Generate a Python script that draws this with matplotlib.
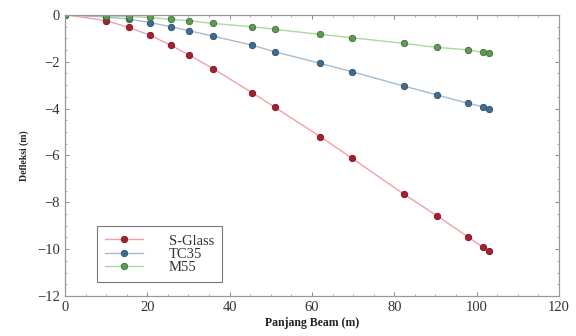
import matplotlib
matplotlib.use("Agg")
import matplotlib.pyplot as plt
from matplotlib.ticker import MultipleLocator

x = [0, 10, 15.5, 20.6, 25.7, 30.1, 36, 45.5, 51, 62, 69.7, 82.3, 90.4, 98, 101.5, 103]
s_glass = [0, -0.25, -0.54, -0.87, -1.30, -1.71, -2.30, -3.33, -3.95, -5.20, -6.12, -7.65, -8.58, -9.49, -9.92, -10.10]
tc35 = [0, -0.10, -0.18, -0.33, -0.51, -0.68, -0.91, -1.30, -1.58, -2.07, -2.43, -3.04, -3.42, -3.78, -3.92, -4.02]
m55 = [0, -0.05, -0.08, -0.11, -0.20, -0.25, -0.37, -0.51, -0.62, -0.84, -0.98, -1.22, -1.39, -1.50, -1.60, -1.65]

series_names = ["S-Glass", "TC35", "M55"]
x_ticks = [0, 20, 40, 60, 80, 100, 120]
y_ticks = [0, -2, -4, -6, -8, -10, -12]

plt.rcParams['font.family'] = ['Liberation Serif', 'DejaVu Serif']

fig = plt.figure(figsize=(5.76, 3.36), dpi=100)
ax = fig.add_axes([0.1128, 0.119, 0.8577, 0.837])

styles = [
    dict(color="#f2a0a8", mfc="#a8202e", mec="#7a1020"),
    dict(color="#a9bccb", mfc="#3f6d92", mec="#2d4f6c"),
    dict(color="#a9d8a0", mfc="#5f9a52", mec="#3f6e38"),
]
for ys, name, st in zip([s_glass, tc35, m55], series_names, styles):
    ax.plot(x, ys, '-', color=st["color"], lw=1.0, marker='o', markersize=4.6,
            markerfacecolor=st["mfc"], markeredgecolor=st["mec"], markeredgewidth=0.6,
            label=name)

ax.set_xlim(0, 120)
ax.set_ylim(-12, 0)
ax.set_xticks(x_ticks)
ax.set_yticks(y_ticks)
ax.xaxis.set_minor_locator(MultipleLocator(5))
ax.yaxis.set_minor_locator(MultipleLocator(0.5))
ax.tick_params(axis='both', which='both', direction='in', top=True, right=True,
               colors='#888888', labelcolor='#333333', labelsize=10.5)
ax.tick_params(which='major', length=3, width=0.7)
ax.tick_params(which='minor', length=1.5, width=0.5)
for sp in ax.spines.values():
    sp.set_color('#999999')
    sp.set_linewidth(0.9)

ax.set_xlabel("Panjang Beam (m)", fontsize=8.5, fontweight='bold', color='#222222', labelpad=2)
ax.set_ylabel("Defleksi (m)", fontsize=7, fontweight='bold', color='#222222', labelpad=6)

leg = ax.legend(loc='lower left', bbox_to_anchor=(0.064, 0.05), frameon=True, fancybox=False,
                fontsize=10.5, handlelength=2.6, borderpad=0.55, labelspacing=0.0,
                handletextpad=1.8, borderaxespad=0)
leg.get_frame().set_edgecolor('#555555')
leg.get_frame().set_linewidth(0.8)
for t in leg.get_texts():
    t.set_color('#333333')

fig.savefig("out.png", dpi=100)
